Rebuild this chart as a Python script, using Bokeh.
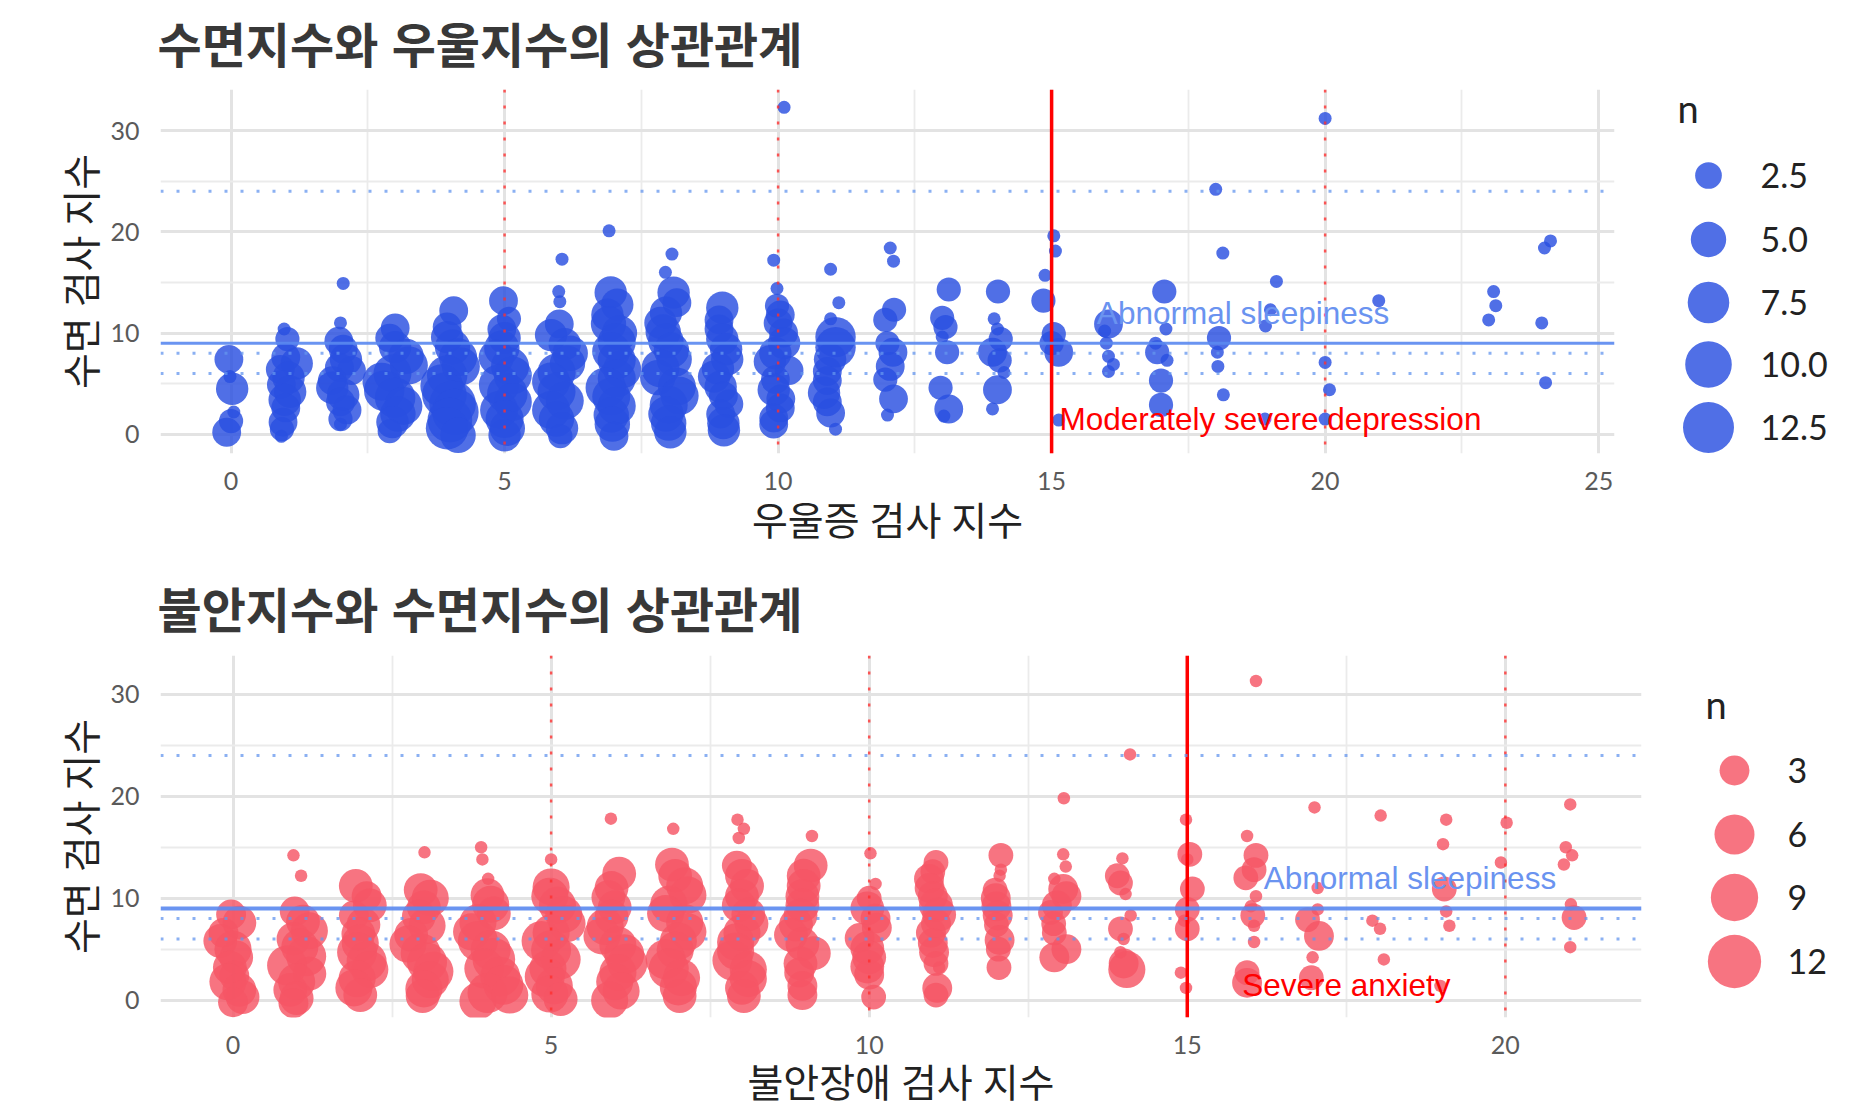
import numpy as np
from bokeh.plotting import figure
from bokeh.models import Range1d, FixedTicker, Span, ColumnDataSource
from bokeh.layouts import column, row
from bokeh.core.properties import value
from bokeh.embed import file_html
from bokeh.resources import INLINE

# ---------- depression score (jittered) vs sleep score (jittered), n = count ----------
dep_x = [
    -0.04, 0.02, -0.02, 0.05, 0.0, -0.08,
    0.97, 1.03, 1.2, 1.0, 0.9, 1.05, 0.92, 1.08, 0.98, 1.0, 0.95, 0.93, 0.92,
    2.05, 2.0, 1.97, 2.05, 2.1, 2.2, 1.98, 1.85, 1.85, 2.05, 2.0, 2.12, 2.0, 2.0,
    3.0, 2.9, 3.0, 3.2, 3.25, 2.95, 2.75, 2.8, 3.0, 3.15, 3.05, 2.95, 2.9,
    4.07, 3.95, 3.95, 4.05, 4.15, 4.2, 3.95, 3.85, 3.9, 4.05, 4.1, 4.0, 3.95, 4.15,
    4.98, 5.08, 4.95, 5.0, 4.95, 4.85, 5.1, 5.15, 4.9, 5.05, 5.15, 4.9, 5.0, 5.05, 5.0,
    6.05, 5.99, 6.01, 6.0, 5.85, 6.1, 6.2, 6.15, 5.95, 5.85, 5.95, 6.1, 5.85, 5.95, 6.05, 6.02,
    6.91, 6.94, 7.06, 6.88, 6.9, 7.1, 7.05, 6.95, 7.05, 7.15, 7.05, 6.85, 6.95, 7.05, 6.95, 6.97, 7.0,
    8.06, 7.94, 8.09, 8.15, 7.95, 7.85, 7.9, 7.95, 8.05, 8.1, 7.85, 7.8, 8.15, 8.2, 8.0, 7.95, 8.0, 8.03,
    8.98, 8.92, 8.92, 8.98, 9.05, 9.07, 8.9, 8.83, 8.95, 9.0, 9.1, 8.95, 9.0, 9.01,
    10.11, 9.92, 9.98, 9.98, 10.04, 10.0, 10.1, 10.11, 9.95, 9.85, 10.2, 9.95, 9.92, 10.05, 10.04, 9.92, 9.92,
    10.96, 11.11, 10.96, 11.05, 11.05, 10.95, 10.9, 10.9, 10.84, 10.9, 10.96, 11.05,
    12.05, 12.11, 12.12, 11.96, 12.1, 12.0, 12.05, 11.96, 12.11, 12.0,
    13.12, 13.0, 13.06, 13.09, 12.97, 13.12, 13.03, 13.0,
    14.02, 13.95, 14.01, 14.07, 13.92, 14.13, 14.01, 13.92, 14.05,
    15.04, 15.07, 14.88, 14.85, 15.04, 15.13, 15.0, 15.13,
    16.04, 16.0, 16.04, 16.13, 16.04, 15.97,
    17.06, 17.09, 16.93, 17.11, 17.0, 17.0, 16.9,
    18.0, 18.13, 18.06, 18.03, 18.04, 18.14,
    19.11, 19.0, 18.91, 18.9, 20.0, 20.0, 20.08, 20.0, 20.98,
    23.08, 23.12, 22.99, 24.12, 24.01, 23.96, 24.03,
]
dep_sleep = [
    7.4, 4.5, 5.7, 2.2, 1.3, 0.2,
    10.4, 9.4, 7.0, 7.6, 6.4, 5.6, 4.9, 4.2, 3.4, 2.6, 1.2, 0.5, -0.2,
    14.9, 11.0, 9.2, 8.4, 7.4, 6.3, 6.6, 5.3, 4.6, 3.9, 3.2, 2.4, 1.5, 1.0,
    10.5, 9.5, 8.6, 7.7, 6.8, 6.0, 5.2, 4.3, 3.6, 2.8, 2.0, 1.2, 0.3,
    12.2, 10.6, 9.6, 8.6, 7.6, 6.7, 5.8, 4.8, 3.9, 3.0, 2.2, 1.4, 0.6, -0.1,
    13.2, 11.4, 10.4, 9.5, 8.5, 7.6, 6.7, 5.8, 4.9, 4.0, 3.2, 2.4, 1.5, 0.6, -0.1,
    17.3, 14.1, 13.1, 10.9, 9.8, 8.9, 8.0, 7.0, 6.1, 5.2, 4.2, 3.3, 2.4, 1.5, 0.6, -0.2,
    20.1, 14.0, 12.8, 11.8, 10.9, 10.0, 9.1, 8.2, 7.3, 6.4, 5.5, 4.6, 3.7, 2.8, 1.9, 1.0, -0.2,
    17.8, 16.0, 14.0, 13.0, 12.0, 11.0, 10.1, 9.2, 8.3, 7.4, 6.5, 5.6, 4.7, 3.8, 2.9, 2.0, 1.1, 0.2,
    12.5, 11.3, 10.4, 9.4, 8.4, 7.4, 6.5, 5.7, 4.7, 3.8, 3.0, 2.0, 1.1, 0.4,
    32.3, 17.2, 14.4, 12.7, 11.8, 11.0, 10.0, 9.0, 8.0, 7.2, 6.3, 5.4, 4.4, 3.5, 2.6, 1.6, 1.0,
    16.3, 13.0, 11.4, 9.6, 8.6, 7.4, 6.2, 5.3, 4.1, 3.2, 2.1, 0.5,
    18.4, 17.1, 12.3, 11.3, 8.1, 9.0, 6.7, 5.4, 3.5, 1.9,
    14.3, 11.5, 10.6, 8.1, 4.6, 2.5, 1.8, 9.6,
    14.1, 11.4, 10.4, 9.4, 8.1, 6.1, 4.4, 2.5, 7.3,
    19.6, 18.1, 15.7, 13.2, 9.9, 8.1, 9.0, 1.4,
    10.9, 9.0, 7.7, 6.9, 6.2, 10.2,
    14.1, 10.4, 8.1, 7.3, 5.3, 2.9, 9.0,
    24.2, 17.9, 9.5, 8.1, 6.7, 3.9,
    15.1, 12.3, 10.7, 1.5, 31.2, 7.1, 4.4, 1.5, 13.2,
    14.1, 12.7, 11.3, 19.1, 18.4, 11.0, 5.1,
]
dep_n = [
    3, 4, 1, 1, 2, 3,
    1, 2, 4, 3, 3, 4, 3, 4, 4, 3, 3, 2, 1,
    1, 1, 3, 3, 4, 3, 3, 3, 4, 4, 3, 3, 2, 1,
    3, 3, 4, 5, 6, 6, 6, 7, 7, 6, 5, 4, 2,
    3, 3, 4, 5, 6, 6, 7, 8, 9, 10, 10, 9, 8, 5,
    3, 2, 3, 4, 5, 5, 6, 6, 7, 7, 6, 6, 6, 5, 4,
    1, 1, 1, 3, 4, 4, 5, 5, 6, 6, 6, 6, 6, 5, 4, 2,
    1, 4, 4, 4, 5, 5, 6, 6, 6, 6, 6, 7, 6, 6, 5, 5, 3,
    1, 1, 4, 3, 4, 4, 5, 5, 5, 5, 6, 5, 6, 6, 6, 5, 5, 4,
    4, 3, 3, 4, 4, 4, 4, 4, 4, 3, 3, 3, 4, 4,
    1, 1, 1, 2, 3, 3, 3, 4, 4, 4, 3, 3, 4, 3, 3, 3, 3,
    1, 1, 1, 7, 7, 4, 3, 3, 4, 3, 3, 1,
    1, 1, 2, 2, 3, 2, 3, 2, 3, 1,
    2, 2, 2, 2, 2, 3, 1, 1,
    2, 1, 1, 2, 3, 1, 3, 1, 2,
    1, 1, 1, 2, 2, 3, 2, 1,
    3, 1, 1, 1, 1, 1,
    2, 1, 2, 1, 2, 2, 1,
    1, 1, 2, 1, 1, 1,
    1, 1, 1, 1, 1, 1, 1, 1, 1,
    1, 1, 1, 1, 1, 1, 1,
]

# ---------- anxiety score (jittered) vs sleep score (jittered), n = count ----------
anx_x = [
    -0.03, 0.1, -0.15, -0.2, 0.0, 0.05, -0.05, 0.02, -0.08, 0.1, 0.15, 0.0,
    0.95, 1.07, 0.97, 1.1, 1.2, 0.95, 1.05, 1.15, 0.85, 1.2, 1.0, 0.9, 1.0, 0.95,
    1.93, 2.1, 2.15, 1.9, 2.05, 1.97, 2.0, 1.95, 2.1, 2.15, 1.95, 1.9, 2.0,
    3.01, 2.95, 3.1, 3.0, 2.92, 3.05, 2.8, 2.75, 2.95, 3.05, 3.15, 3.1, 3.0, 2.98,
    3.9, 3.92, 4.01, 4.0, 4.05, 4.1, 3.85, 3.75, 3.85, 4.05, 4.1, 3.95, 4.2, 4.25, 4.0, 3.85, 4.35,
    5.0, 5.0, 4.98, 5.1, 5.2, 5.25, 5.0, 4.85, 5.0, 5.15, 4.95, 4.9, 5.05, 4.98, 5.15,
    5.94, 6.07, 5.95, 5.9, 6.0, 5.95, 5.85, 5.8, 6.05, 6.15, 6.2, 6.05, 6.0, 6.1, 5.92,
    6.92, 6.9, 6.95, 7.1, 7.15, 6.85, 6.8, 7.1, 7.15, 7.0, 6.95, 6.8, 6.85, 7.05, 7.0, 7.02,
    7.93, 8.03, 7.95, 7.92, 8.0, 8.08, 8.0, 7.95, 8.1, 8.15, 8.0, 7.9, 7.9, 7.85, 8.1, 8.1, 8.0, 8.03,
    9.1, 9.08, 8.97, 8.97, 8.95, 8.95, 8.92, 8.85, 8.77, 8.95, 9.13, 8.92, 8.9, 8.95, 8.95,
    10.02, 10.1, 10.0, 9.97, 10.1, 10.12, 9.85, 9.97, 10.0, 9.97, 10.0, 10.07,
    11.05, 11.0, 10.94, 10.95, 11.0, 11.05, 11.1, 11.05, 10.97, 11.0, 11.02, 11.05, 11.1, 11.07, 11.05,
    12.07, 12.07, 12.05, 11.98, 11.99, 12.0, 12.02, 12.0, 12.05, 12.03, 12.04,
    13.06, 13.05, 13.09, 12.91, 13.05, 13.1, 12.95, 12.85, 12.9, 12.91, 13.1, 12.91,
    14.1, 13.98, 13.9, 13.95, 14.03, 14.11, 13.95, 14.0, 14.0, 14.05, 13.95,
    14.98, 15.04, 15.0, 15.08, 15.0, 14.95, 15.0, 14.9, 14.98,
    16.08, 15.94, 16.08, 16.05, 15.92, 16.08, 16.03, 16.05, 16.05, 15.94, 15.94, 16.0,
    17.0, 17.05, 17.05, 16.89, 17.07, 16.97, 16.95,
    18.04, 17.91, 18.03, 18.09,
    19.07, 19.02, 19.04, 19.07, 19.12, 18.98,
    20.02, 19.93,
    21.02, 20.95, 21.05, 20.92, 21.03, 21.08, 21.02,
]
anx_sleep = [
    8.4, 7.6, 6.6, 5.8, 5.0, 4.2, 3.2, 2.4, 1.8, 1.0, 0.3, -0.2,
    14.2, 12.2, 8.7, 7.7, 6.8, 6.0, 5.2, 4.3, 3.4, 2.6, 1.8, 1.0, 0.2, -0.3,
    11.2, 10.2, 9.3, 8.3, 7.4, 6.5, 5.6, 4.7, 3.8, 3.0, 2.1, 1.2, 0.5,
    14.5, 10.8, 10.0, 9.1, 8.2, 7.3, 6.4, 5.5, 4.6, 3.7, 2.8, 2.0, 1.1, 0.4,
    15.0, 13.8, 11.9, 10.3, 9.4, 8.5, 7.6, 6.7, 5.8, 4.9, 4.0, 3.1, 2.3, 1.5, 0.7, -0.1, 0.5,
    13.8, 11.1, 10.2, 9.3, 8.4, 7.5, 6.6, 5.8, 4.9, 4.0, 3.1, 2.3, 1.4, 0.6, 0.1,
    17.8, 12.4, 11.0, 10.1, 9.1, 8.2, 7.2, 6.3, 5.4, 4.5, 3.6, 2.7, 1.8, 0.9, 0.0,
    16.8, 13.3, 12.2, 11.2, 10.3, 9.4, 8.5, 7.6, 6.7, 5.8, 4.9, 4.0, 3.1, 2.2, 1.3, 0.4,
    17.7, 16.8, 15.9, 13.2, 12.2, 11.2, 10.2, 9.3, 8.4, 7.5, 6.6, 5.7, 4.8, 3.9, 3.0, 2.1, 1.2, 0.4,
    16.1, 13.2, 12.2, 11.2, 10.2, 9.3, 8.3, 7.4, 6.4, 5.5, 4.6, 3.6, 2.7, 1.4, 0.5,
    14.4, 11.4, 10.0, 9.0, 8.0, 7.1, 6.1, 5.1, 4.2, 3.3, 2.5, 0.3,
    13.5, 12.6, 11.9, 11.0, 10.2, 9.3, 8.4, 7.5, 6.6, 5.6, 4.7, 3.6, 3.2, 1.2, 0.5,
    14.2, 12.8, 12.2, 10.8, 10.0, 9.2, 8.3, 7.4, 5.9, 5.0, 3.2,
    19.8, 14.3, 13.1, 11.9, 10.9, 10.2, 9.3, 8.6, 7.5, 6.6, 5.0, 4.2,
    24.1, 13.9, 12.2, 11.5, 10.4, 8.3, 7.0, 6.0, 3.6, 3.0, 4.7,
    17.7, 14.3, 13.8, 10.9, 8.9, 7.8, 7.0, 2.7, 1.2,
    31.3, 16.1, 14.2, 12.8, 12.0, 10.2, 8.3, 7.3, 5.7, 2.7, 1.7, 9.2,
    18.9, 11.0, 8.9, 7.9, 6.3, 4.2, 2.2,
    18.1, 7.8, 7.0, 4.0,
    17.7, 15.3, 10.9, 8.7, 7.3, 1.4,
    17.4, 13.5,
    19.2, 15.0, 14.2, 13.3, 9.4, 8.1, 5.2,
]
anx_n = [
    3, 4, 3, 4, 5, 4, 4, 3, 5, 4, 4, 3,
    1, 1, 3, 4, 5, 4, 5, 6, 6, 4, 5, 4, 4, 3,
    4, 3, 4, 3, 4, 4, 5, 6, 6, 5, 5, 5, 4,
    1, 4, 5, 4, 4, 5, 4, 5, 6, 6, 6, 5, 5, 4,
    1, 1, 1, 4, 5, 4, 5, 5, 6, 6, 7, 6, 6, 6, 6, 5, 5,
    1, 5, 5, 5, 5, 5, 5, 6, 6, 6, 5, 6, 5, 5, 4,
    1, 4, 4, 4, 4, 4, 5, 5, 5, 6, 6, 5, 5, 5, 5,
    1, 4, 4, 5, 5, 5, 5, 5, 5, 5, 5, 6, 6, 5, 5, 4,
    1, 1, 1, 3, 4, 4, 4, 4, 4, 4, 5, 5, 5, 6, 5, 5, 4, 4,
    1, 4, 4, 4, 4, 4, 4, 4, 4, 4, 4, 4, 3, 3, 3,
    1, 1, 2, 4, 3, 3, 3, 4, 4, 4, 3, 2,
    2, 2, 3, 3, 3, 4, 4, 3, 3, 3, 3, 2, 1, 3, 2,
    2, 1, 1, 2, 3, 3, 3, 2, 3, 2, 2,
    1, 1, 1, 1, 3, 3, 3, 2, 2, 2, 3, 3,
    1, 1, 2, 2, 1, 1, 2, 1, 3, 5, 1,
    1, 2, 1, 2, 2, 1, 2, 1, 1,
    1, 1, 2, 2, 2, 1, 2, 1, 1, 2, 3, 1,
    1, 1, 1, 2, 3, 1, 2,
    1, 1, 1, 1,
    1, 1, 2, 1, 1, 1,
    1, 1,
    1, 1, 1, 1, 1, 2, 1,
]

# ---------- reference lines, ticks, legend values, labels ----------
red_dotted_x = [5, 10, 20]
red_solid_x = [15]
blue_solid_y = [9]
blue_dotted_y = [6, 8, 24]
dep_ticks = [0, 5, 10, 15, 20, 25]
dep_minor = [2.5, 7.5, 12.5, 17.5, 22.5]
anx_ticks = [0, 5, 10, 15, 20]
anx_minor = [2.5, 7.5, 12.5, 17.5]
sleep_ticks = [0, 10, 20, 30]
sleep_minor = [5, 15, 25]
dep_legend_n = [2.5, 5.0, 7.5, 10.0, 12.5]
dep_legend_lab = ["2.5", "5.0", "7.5", "10.0", "12.5"]
anx_legend_n = [3, 6, 9, 12]
anx_legend_lab = ["3", "6", "9", "12"]
dep_labels = [("Abnormal sleepiness", 18.5, 12, "#6A93F0"),
              ("Moderately severe depression", 19, 1.5, "#FF0000")]
anx_labels = [("Abnormal sleepiness", 18.5, 12, "#6A93F0"),
              ("Severe anxiety", 17.5, 1.5, "#FF0000")]

KR = "Lato, Noto Sans CJK KR"
KR_TITLE = "Liberation Sans, Noto Sans CJK KR"
NUM = "Lato"
BLUE = "#2A4FE0"
RED = "#F55565"


def size_of(ns, d0, k):
    return [d0 + k * np.sqrt(max(n - 1, 0)) for n in ns]


def panel(title, xlabel, xs, ys, ns, color, xr, yr, xt, xm, labels,
          w, h, bl, br, bt, bb, d0, k, blue_w, title_standoff, xlab_standoff):
    p = figure(width=w, height=h, x_range=Range1d(*xr), y_range=Range1d(*yr),
               output_backend="svg", toolbar_location=None,
               min_border_left=bl, min_border_right=br,
               min_border_top=bt, min_border_bottom=bb)
    p.outline_line_color = None
    p.background_fill_color = "white"
    p.border_fill_color = "white"
    p.title.text = title
    p.title.text_font = KR_TITLE
    p.title.text_font_size = "48px"
    p.title.text_font_style = "bold"
    p.title.text_color = "#383838"
    p.title.align = "left"
    p.title.offset = -3
    p.title.standoff = title_standoff

    p.xaxis.ticker = FixedTicker(ticks=xt, minor_ticks=xm)
    p.yaxis.ticker = FixedTicker(ticks=sleep_ticks, minor_ticks=sleep_minor)
    for ax in (p.xaxis[0], p.yaxis[0]):
        ax.axis_line_color = None
        ax.major_tick_line_color = None
        ax.minor_tick_line_color = None
        ax.major_label_text_font = NUM
        ax.major_label_text_font_size = "25px"
        ax.major_label_text_color = "#5A5A5A"
        ax.axis_label_text_font = KR
        ax.axis_label_text_font_size = "39px"
        ax.axis_label_text_font_style = "normal"
        ax.axis_label_text_color = "#222222"
    p.xaxis.axis_label = xlabel
    p.yaxis.axis_label = "수면 검사 지수"
    p.xaxis.major_label_standoff = 12
    p.xaxis.axis_label_standoff = xlab_standoff
    p.yaxis.major_label_standoff = 15
    p.yaxis.axis_label_standoff = 3

    for g in (p.xgrid[0], p.ygrid[0]):
        g.grid_line_color = "#E3E3E3"
        g.grid_line_width = 3
        g.minor_grid_line_color = "#EBEBEB"
        g.minor_grid_line_width = 1.8

    src = ColumnDataSource(dict(x=xs, y=ys, n=ns, s=size_of(ns, d0, k)))
    p.scatter("x", "y", size="s", source=src, fill_color=color, fill_alpha=0.82,
              line_color=None)

    for v in red_dotted_x:
        p.add_layout(Span(location=v, dimension="height", line_color="#FF3030",
                          line_alpha=0.8, line_width=2.5, line_dash="3 13"))
    for v in red_solid_x:
        p.add_layout(Span(location=v, dimension="height", line_color="#FF0000",
                          line_width=3.5))
    for v in blue_dotted_y:
        p.add_layout(Span(location=v, dimension="width", line_color="#6495ED",
                          line_alpha=0.75, line_width=3, line_dash="3 13"))
    for v in blue_solid_y:
        p.add_layout(Span(location=v, dimension="width", line_color="#5A88F0",
                          line_alpha=0.9, line_width=blue_w))

    for txt, lx, ly, col in labels:
        p.text(x=[lx], y=[ly], text=[txt], text_color=col,
               text_font=value("Liberation Sans"), text_font_size="31.5px",
               text_align="center", text_baseline="middle", level="overlay")
    return p


def legend_fig(w, h, bt, bb, frame_top, frame_bottom, vals, labels, color, d0, k,
               title_x, title_y, cx, lx, ys):
    lp = figure(width=w, height=h, x_range=Range1d(0, w),
                y_range=Range1d(frame_bottom, frame_top),
                output_backend="svg", toolbar_location=None,
                x_axis_type=None, y_axis_type=None,
                min_border_left=0, min_border_right=0,
                min_border_top=bt, min_border_bottom=bb)
    lp.outline_line_color = None
    lp.xgrid.visible = False
    lp.ygrid.visible = False
    lp.scatter(x=[cx] * len(vals), y=ys, size=size_of(vals, d0, k),
               fill_color=color, fill_alpha=0.82, line_color=None)
    lp.text(x=[lx] * len(vals), y=ys, text=labels, text_font=value(NUM),
            text_font_size="34px", text_color="#222222", text_baseline="middle",
            text_align="left")
    lp.text(x=[title_x], y=[title_y], text=["n"], text_font=value(NUM),
            text_font_size="38px", text_color="#222222", text_baseline="middle",
            text_align="left")
    return lp


# top panel: frame x 160..1614, y 89..453 (page px)
p1 = panel("수면지수와 우울지수의 상관관계", "우울증 검사 지수", dep_x, dep_sleep, dep_n, BLUE,
           (-1.29, 25.29), (-1.9, 34.06), dep_ticks, dep_minor, dep_labels,
           1640, 563, 160, 26, 89, 110, 13, 11.2, 3, 33, 4)
l1 = legend_fig(225, 563, 89, 110, 89, 453, dep_legend_n, dep_legend_lab, BLUE,
                13, 11.2, 37, 107, 68, 120, [175, 239, 302, 364, 427])

# bottom panel: frame x 160..1641, y 655..1017 (page px)
p2 = panel("불안지수와 수면지수의 상관관계", "불안장애 검사 지수", anx_x, anx_sleep, anx_n, RED,
           (-1.14, 22.14), (-1.7, 33.8), anx_ticks, anx_minor, anx_labels,
           1660, 545, 160, 19, 92, 91, 12.5, 12.3, 4, 35, 2)
l2 = legend_fig(205, 545, 92, 91, 655, 1017, anx_legend_n, anx_legend_lab, RED,
                12.5, 12.3, 45, 703, 74, 127, [770, 834, 897, 961])

layout = column(row(p1, l1), row(p2, l2))
open("out.html", "w").write(file_html(layout, INLINE))
